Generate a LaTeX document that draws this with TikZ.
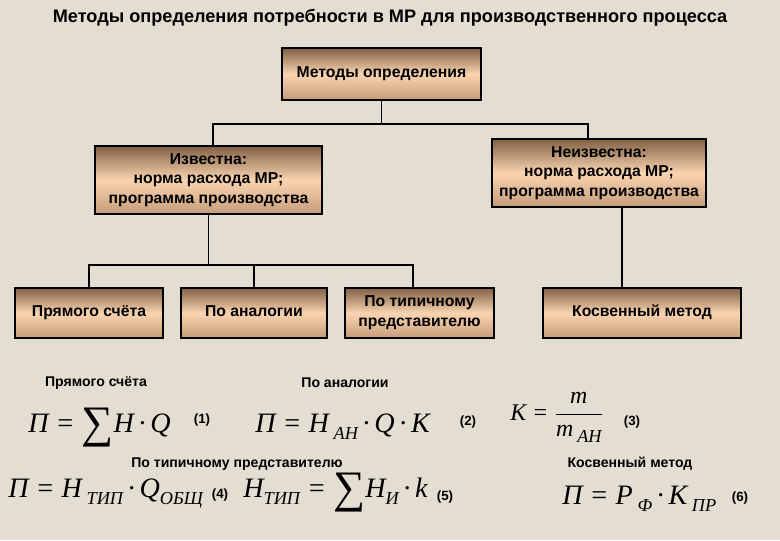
\documentclass[tikz,border=0pt]{standalone}
\usepackage{fontspec}
\setmainfont{Liberation Sans}
\newfontfamily\formfont{Liberation Serif}
\usetikzlibrary{positioning}
\definecolor{paper}{RGB}{228,222,210}
\definecolor{boxdark}{RGB}{128,96,68}
\definecolor{boxlight}{RGB}{250,212,176}
\definecolor{boxlow}{RGB}{196,156,122}
\newcommand{\idx}[1]{\raisebox{-0.55ex}{\fontsize{13}{13}\selectfont #1}}
\newcommand{\bigsum}{\raisebox{-0.2em}{\scalebox{1.6}{\upshape ∑}}}
\tikzset{
    method/.style={rectangle, draw=black, line width=0.8pt, top color=boxdark, bottom color=boxlow, middle color=boxlight, align=center, font=\bfseries\fontsize{11.2}{14}\selectfont, inner sep=0pt},
    link/.style={line width=1.4pt},
    caption/.style={font=\bfseries\fontsize{10}{12}\selectfont},
    formula/.style={font=\formfont\itshape\fontsize{20}{24}\selectfont, inner sep=0pt, anchor=base west},
    eqnum/.style={font=\bfseries\fontsize{9.5}{11}\selectfont}
}
\begin{document}
\begin{tikzpicture}[x=0.025cm, y=-0.025cm]
    \fill [paper] (0,0) rectangle (780,540);
    \node (title) [font=\bfseries\fontsize{12.9}{15}\selectfont] at (390,18) {Методы определения потребности в МР для производственного процесса};

    % tree of methods
    \node (top) [method, minimum width=4.975cm, minimum height=1.3cm] at (381.5,74) {Методы определения};
    \node (known) [method, minimum width=5.675cm, minimum height=1.7cm] at (208.5,180) {Известна:\\норма расхода МР;\\программа производства};
    \node (unknown) [method, minimum width=5.35cm, minimum height=1.7cm] at (599,173) {Неизвестна:\\норма расхода МР;\\программа производства};
    \node (direct) [method, minimum width=3.7cm, minimum height=1.25cm] at (89,313) {\strut Прямого счёта};
    \node (analog) [method, minimum width=3.65cm, minimum height=1.25cm] at (254,313) {\strut По аналогии};
    \node (typical) [method, minimum width=3.725cm, minimum height=1.25cm] at (419.5,313) {По типичному\\представителю};
    \node (indirect) [method, minimum width=4.95cm, minimum height=1.25cm] at (642,313) {\strut Косвенный метод};

    \draw [link] (top.south) -- ++(0,23) -| ([xshift=0.11cm]known.north);
    \draw [link] (top.south) -- ++(0,23) -| ([xshift=-0.275cm]unknown.north);
    \draw [link] (known.south) -- ++(0,50) -| (direct.north);
    \draw [link] (known.south) -- ++(0,50) -| (analog.north);
    \draw [link] (known.south) -- ++(0,50) -| ([xshift=-0.16cm]typical.north);
    \draw [link] ([xshift=0.575cm]unknown.south) -- ([xshift=0.575cm]unknown.south |- indirect.north);

    % formulas
    \node (capdirect) [caption] at (96,383) {Прямого счёта};
    \node (capanalog) [caption] at (345,383) {По аналогии};
    \node (captypical) [caption] at (237,464) {По типичному представителю};
    \node (capindirect) [caption] at (630,464) {Косвенный метод};

    \node (f1) [formula] at (28,432) {П = \bigsum Н\,·\,Q};
    \node (f2) [formula] at (255,432) {П = Н\,\idx{АН}\,·\,Q\,·\,K};
    \node (f3) [formula, font=\formfont\itshape\fontsize{17}{20}\selectfont] at (510,420) {K = $\displaystyle\frac{\hbox{\formfont\itshape\fontsize{17}{20}\selectfont m\vphantom{Н}}}{\hbox{\formfont\itshape\fontsize{17}{20}\selectfont m\,\idx{АН}}}$};
    \node (f4) [formula] at (8,497) {П = Н\,\idx{ТИП}\,·\,Q\idx{ОБЩ}};
    \node (f5) [formula] at (243,497) {Н\idx{ТИП} = \bigsum Н\idx{И}\,·\,k};
    \node (f6) [formula] at (562,504) {П = Р\,\idx{Ф}\,·\,К\,\idx{ПР}};

    \node (n1) [eqnum] at (202,420) {(1)};
    \node (n2) [eqnum] at (468,422) {(2)};
    \node (n3) [eqnum] at (632,422) {(3)};
    \node (n4) [eqnum] at (220,495) {(4)};
    \node (n5) [eqnum] at (445,497) {(5)};
    \node (n6) [eqnum] at (740,498) {(6)};
\end{tikzpicture}
\end{document}
